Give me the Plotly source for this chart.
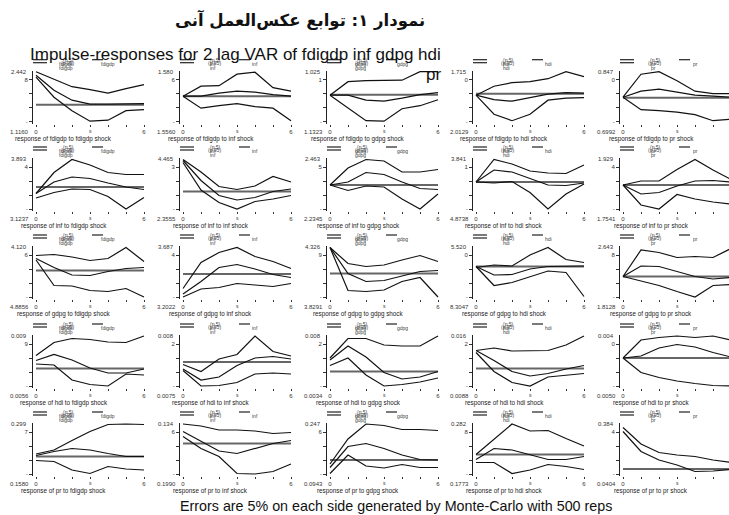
import plotly.graph_objects as go

W, H = 729, 515
steps = [0, 1, 2, 3, 4, 5, 6]
variables = ["fdigdp", "inf", "gdpg", "hdi", "pr"]

# values are read as fractions of each small panel's y-span (0 = bottom tick, 1 = top)
# ---- response of fdigdp ----
fdigdp_fdigdp_hi = [1.00, 0.85, 0.70, 0.64, 0.57, 0.66, 0.74]
fdigdp_fdigdp_irf = [0.93, 0.63, 0.43, 0.35, 0.35, 0.35, 0.36]
fdigdp_fdigdp_lo = [0.89, 0.49, 0.22, 0.01, 0.03, 0.22, 0.24]
fdigdp_inf_hi = [0.51, 0.71, 0.72, 0.95, 0.99, 0.68, 0.61]
fdigdp_inf_irf = [0.51, 0.51, 0.57, 0.61, 0.59, 0.54, 0.51]
fdigdp_inf_lo = [0.51, 0.27, 0.32, 0.36, 0.30, 0.27, 0.02]
fdigdp_gdpg_hi = [0.53, 0.80, 0.82, 0.83, 0.83, 1.00, 1.00]
fdigdp_gdpg_irf = [0.53, 0.53, 0.43, 0.41, 0.47, 0.54, 0.58]
fdigdp_gdpg_lo = [0.53, 0.27, 0.02, 0.01, 0.26, 0.32, 0.44]
fdigdp_hdi_hi = [0.53, 0.71, 0.78, 0.80, 0.86, 1.00, 0.90]
fdigdp_hdi_irf = [0.53, 0.44, 0.41, 0.48, 0.55, 0.58, 0.57]
fdigdp_hdi_lo = [0.53, 0.15, 0.02, 0.15, 0.43, 0.47, 0.48]
fdigdp_pr_hi = [0.49, 0.95, 1.00, 0.82, 0.61, 0.56, 0.56]
fdigdp_pr_irf = [0.49, 0.61, 0.65, 0.59, 0.53, 0.51, 0.49]
fdigdp_pr_lo = [0.49, 0.24, 0.22, 0.19, 0.14, 0.02, 0.05]
# ---- response of inf ----
inf_fdigdp_hi = [0.31, 0.73, 0.99, 0.88, 0.73, 0.69, 0.69]
inf_fdigdp_irf = [0.31, 0.54, 0.64, 0.61, 0.52, 0.44, 0.39]
inf_fdigdp_lo = [0.22, 0.33, 0.40, 0.39, 0.25, 0.00, 0.23]
inf_inf_hi = [0.99, 0.74, 0.45, 0.39, 0.46, 0.65, 0.54]
inf_inf_irf = [0.97, 0.57, 0.27, 0.18, 0.23, 0.35, 0.40]
inf_inf_lo = [0.93, 0.38, 0.13, 0.00, 0.15, 0.20, 0.27]
inf_gdpg_hi = [0.48, 0.82, 0.99, 0.96, 0.74, 0.74, 0.79]
inf_gdpg_irf = [0.48, 0.54, 0.73, 0.69, 0.54, 0.41, 0.39]
inf_gdpg_lo = [0.48, 0.37, 0.46, 0.44, 0.20, 0.00, 0.30]
inf_hdi_hi = [0.54, 0.99, 0.90, 0.76, 0.72, 0.71, 0.88]
inf_hdi_irf = [0.54, 0.78, 0.74, 0.61, 0.48, 0.47, 0.52]
inf_hdi_lo = [0.54, 0.52, 0.55, 0.33, 0.00, 0.30, 0.50]
inf_pr_hi = [0.48, 0.56, 0.56, 0.79, 0.99, 0.78, 0.59]
inf_pr_irf = [0.48, 0.30, 0.33, 0.46, 0.56, 0.57, 0.54]
inf_pr_lo = [0.48, 0.08, 0.00, 0.29, 0.20, 0.14, 0.10]
# ---- response of gdpg ----
gdpg_fdigdp_hi = [0.83, 0.85, 0.80, 0.73, 0.77, 0.99, 0.71]
gdpg_fdigdp_irf = [0.77, 0.59, 0.44, 0.43, 0.51, 0.57, 0.59]
gdpg_fdigdp_lo = [0.74, 0.23, 0.22, 0.13, 0.11, 0.17, 0.00]
gdpg_inf_hi = [0.17, 0.69, 0.89, 0.99, 0.81, 0.71, 0.57]
gdpg_inf_irf = [0.06, 0.31, 0.59, 0.65, 0.56, 0.45, 0.39]
gdpg_inf_lo = [0.00, 0.16, 0.19, 0.27, 0.24, 0.21, 0.27]
gdpg_gdpg_hi = [0.99, 0.67, 0.61, 0.64, 0.74, 0.83, 0.71]
gdpg_gdpg_irf = [0.99, 0.47, 0.31, 0.33, 0.42, 0.51, 0.53]
gdpg_gdpg_lo = [0.99, 0.13, 0.11, 0.14, 0.31, 0.39, 0.00]
gdpg_hdi_hi = [0.59, 0.64, 0.62, 0.84, 0.99, 0.75, 0.69]
gdpg_hdi_irf = [0.61, 0.44, 0.45, 0.56, 0.61, 0.61, 0.62]
gdpg_hdi_lo = [0.61, 0.23, 0.29, 0.41, 0.52, 0.49, 0.01]
gdpg_pr_hi = [0.41, 0.94, 0.89, 0.79, 0.81, 0.79, 0.97]
gdpg_pr_irf = [0.41, 0.62, 0.61, 0.51, 0.41, 0.36, 0.39]
gdpg_pr_lo = [0.41, 0.32, 0.23, 0.11, 0.00, 0.23, 0.25]
# ---- response of hdi ----
hdi_fdigdp_hi = [0.61, 0.87, 0.95, 0.93, 0.88, 0.87, 1.00]
hdi_fdigdp_irf = [0.51, 0.63, 0.52, 0.36, 0.26, 0.26, 0.34]
hdi_fdigdp_lo = [0.44, 0.42, 0.12, 0.03, 0.00, 0.24, 0.22]
hdi_inf_hi = [0.43, 0.29, 0.54, 0.63, 1.00, 0.69, 0.60]
hdi_inf_irf = [0.34, 0.12, 0.18, 0.41, 0.56, 0.59, 0.54]
hdi_inf_lo = [0.31, 0.00, 0.01, 0.07, 0.24, 0.26, 0.24]
hdi_gdpg_hi = [0.56, 0.95, 0.95, 0.82, 0.80, 0.80, 1.00]
hdi_gdpg_irf = [0.52, 0.80, 0.58, 0.27, 0.14, 0.18, 0.29]
hdi_gdpg_lo = [0.41, 0.56, 0.22, 0.00, 0.03, 0.08, 0.16]
hdi_hdi_hi = [0.71, 0.76, 0.70, 0.71, 0.71, 0.82, 1.00]
hdi_hdi_irf = [0.71, 0.51, 0.29, 0.20, 0.25, 0.34, 0.41]
hdi_hdi_lo = [0.67, 0.29, 0.07, 0.00, 0.18, 0.22, 0.25]
hdi_pr_hi = [0.56, 0.92, 0.97, 1.00, 0.97, 1.00, 0.92]
hdi_pr_irf = [0.56, 0.60, 0.76, 0.83, 0.78, 0.67, 0.58]
hdi_pr_lo = [0.56, 0.27, 0.17, 0.10, 0.05, 0.01, 0.00]
# ---- response of pr ----
pr_fdigdp_hi = [0.40, 0.48, 0.67, 0.85, 0.99, 1.00, 0.99]
pr_fdigdp_irf = [0.37, 0.45, 0.51, 0.48, 0.41, 0.35, 0.35]
pr_fdigdp_lo = [0.27, 0.25, 0.08, 0.01, 0.15, 0.10, 0.08]
pr_inf_hi = [1.00, 0.96, 0.88, 0.88, 0.86, 0.81, 0.83]
pr_inf_irf = [0.85, 0.65, 0.46, 0.41, 0.51, 0.61, 0.67]
pr_inf_lo = [0.75, 0.51, 0.35, 0.01, 0.00, 0.05, 0.20]
pr_gdpg_hi = [0.20, 0.70, 1.00, 0.97, 0.89, 0.89, 0.87]
pr_gdpg_irf = [0.13, 0.55, 0.61, 0.51, 0.38, 0.29, 0.28]
pr_gdpg_lo = [0.01, 0.38, 0.16, 0.12, 0.19, 0.13, 0.13]
pr_hdi_hi = [0.39, 0.69, 1.00, 0.86, 0.87, 0.71, 0.56]
pr_hdi_irf = [0.29, 0.51, 0.48, 0.38, 0.29, 0.29, 0.35]
pr_hdi_lo = [0.23, 0.23, 0.01, 0.08, 0.19, 0.15, 0.09]
pr_pr_hi = [0.93, 0.60, 0.43, 0.38, 0.35, 0.28, 0.23]
pr_pr_irf = [0.85, 0.45, 0.28, 0.18, 0.05, 0.06, 0.09]
pr_pr_lo = None

# zero-response level per panel (rows = response, cols = shock)
zero_fdigdp = [0.34, 0.51, 0.54, 0.56, 0.48]
zero_inf = [0.44, 0.35, 0.48, 0.54, 0.48]
zero_gdpg = [0.53, 0.46, 0.47, 0.61, 0.41]
zero_hdi = [0.35, 0.48, 0.29, 0.35, 0.56]
zero_pr = [0.35, 0.61, 0.28, 0.39, 0.10]

# axis value labels (top / bottom) and the garbled tick digit
top_fdigdp = ["2.442", "1.580", "1.025", "1.715", "0.847"]
top_inf = ["3.893", "4.465", "2.463", "3.841", "1.929"]
top_gdpg = ["4.120", "3.687", "4.326", "5.520", "2.643"]
top_hdi = ["0.009", "0.008", "0.008", "0.016", "0.004"]
top_pr = ["0.299", "0.134", "0.247", "0.282", "0.384"]
bot_fdigdp = ["1.1160", "1.5560", "1.1323", "2.0129", "0.6992"]
bot_inf = ["3.1237", "2.3555", "2.2345", "4.8738", "1.7541"]
bot_gdpg = ["4.8856", "3.2022", "3.8291", "8.3047", "1.8128"]
bot_hdi = ["0.0056", "0.0075", "0.0034", "0.0088", "0.0050"]
bot_pr = ["0.1580", "0.1990", "0.0943", "0.1773", "0.0404"]
tick_fdigdp = ["8", "6", "1", "0", "0"]
tick_inf = ["4", "3", "5", "1", "4"]
tick_gdpg = ["6", "4", "9", "0", "8"]
tick_hdi = ["9", "2", "2", "2", "0"]
tick_pr = ["7", "6", "6", "8", "4"]

g = globals()
zeros = [zero_fdigdp, zero_inf, zero_gdpg, zero_hdi, zero_pr]
tops = [top_fdigdp, top_inf, top_gdpg, top_hdi, top_pr]
bots = [bot_fdigdp, bot_inf, bot_gdpg, bot_hdi, bot_pr]
ticks = [tick_fdigdp, tick_inf, tick_gdpg, tick_hdi, tick_pr]

# ---------------- geometry (pixels) ----------------
X0 = [36, 183, 330, 476, 623]
T = [71.7, 159, 247, 336, 424]
PU = 18.0   # px per step
VH = 50.0   # px for the panel's unit height

def px(x):
    return x / W

def py(y):
    return 1 - y / H

SANS = "Liberation Sans, Arial, sans-serif"
fig = go.Figure()
layout = {}
annotations = []
shapes = []

for r in range(5):
    for c in range(5):
        i = r * 5 + c + 1
        resp, shock = variables[r], variables[c]
        x0 = X0[c]
        top = T[r]
        bot = top + VH
        left = x0 - 3
        right = min(x0 + 110, W)
        xr = [(left - x0) / PU, (right - x0) / PU]
        ytop, ybot = top - 1, bot + 2
        yr = [(bot - ybot) / VH, (bot - ytop) / VH]
        xa = "x" if i == 1 else f"x{i}"
        ya = "y" if i == 1 else f"y{i}"
        layout["xaxis" if i == 1 else f"xaxis{i}"] = dict(
            domain=[px(left), px(right)], range=xr, anchor=ya,
            showgrid=False, zeroline=False, showline=False,
            ticks="outside", ticklen=2, tickwidth=1, tickcolor="#333",
            tickvals=steps, ticktext=["0", "", "", "", "", "", "6"],
            tickfont=dict(size=6, family=SANS, color="#333"), fixedrange=True)
        layout["yaxis" if i == 1 else f"yaxis{i}"] = dict(
            domain=[py(ybot), py(ytop)], range=yr, anchor=xa,
            showgrid=False, zeroline=False, showline=True,
            linecolor="#222", linewidth=1,
            ticks="outside", ticklen=3, tickwidth=1, tickcolor="#333",
            tickvals=[0, 0.28, 0.56, 0.84], ticktext=["-", "", "", ticks[r][c]],
            tickfont=dict(size=6, family=SANS, color="#333"), fixedrange=True)

        z = zeros[r][c]
        fig.add_trace(go.Scatter(x=[0, 6], y=[z, z], mode="lines",
                                 line=dict(color="#666", width=2),
                                 xaxis=xa, yaxis=ya, showlegend=False, hoverinfo="skip"))
        for part in ("hi", "irf", "lo"):
            vals = g[f"{resp}_{shock}_{part}"]
            if vals is None:
                continue
            fig.add_trace(go.Scatter(x=steps, y=vals, mode="lines",
                                     line=dict(color="#111", width=1.2),
                                     xaxis=xa, yaxis=ya, showlegend=False,
                                     hoverinfo="skip"))

        # value labels
        annotations.append(dict(x=px(x0 - 7), y=py(top), xref="paper", yref="paper",
                                text=tops[r][c], showarrow=False, xanchor="right",
                                yanchor="middle", font=dict(size=6, family=SANS, color="#333")))
        annotations.append(dict(x=px(x0 - 5), y=py(bot + 10), xref="paper", yref="paper",
                                text=bots[r][c], showarrow=False, xanchor="right",
                                yanchor="middle", font=dict(size=6, family=SANS, color="#333")))
        annotations.append(dict(x=px(x0 + 54), y=py(bot + 9), xref="paper", yref="paper",
                                text="s", showarrow=False, xanchor="center",
                                yanchor="middle", font=dict(size=5, family=SANS, color="#333")))
        annotations.append(dict(x=px(x0 + 28), y=py(bot + 17), xref="paper", yref="paper",
                                text=f"response of {resp} to {shock} shock", showarrow=False,
                                xanchor="center", yanchor="middle",
                                font=dict(size=6.3, family=SANS, color="#222")))
        # legend block
        for ly in (top - 12, top - 9):
            shapes.append(dict(type="line", xref="paper", yref="paper",
                               x0=px(x0 - 3), x1=px(x0 + 11), y0=py(ly), y1=py(ly),
                               line=dict(color="#222", width=1.2)))
        if x0 + 56 < W:
            shapes.append(dict(type="line", xref="paper", yref="paper",
                               x0=px(x0 + 56), x1=px(min(x0 + 67, W)), y0=py(top - 12),
                               y1=py(top - 12), line=dict(color="#222", width=1.2)))
        for txt, dx, dy in (("(p 5)", 32, -12), ("(p 95)", 31, -9), (shock, 30, -8),
                            (shock, 30, -4), (shock, 72, -8)):
            annotations.append(dict(x=px(x0 + dx), y=py(top + dy), xref="paper", yref="paper",
                                    text=txt, showarrow=False, xanchor="center",
                                    yanchor="middle",
                                    font=dict(size=5, family=SANS, color="#444")))

# titles
annotations.append(dict(x=px(300), y=py(20), xref="paper", yref="paper",
                        text="<b>نمودار ۱: توابع عکس‌العمل آنی</b>", showarrow=False,
                        xanchor="center", yanchor="middle",
                        font=dict(size=16.5, family="DejaVu Sans", color="#111")))
annotations.append(dict(x=px(443), y=py(55), xref="paper", yref="paper",
                        text="Impulse-responses for 2 lag VAR of fdigdp inf gdpg hdi",
                        showarrow=False, xanchor="right", yanchor="middle",
                        font=dict(size=17, family=SANS, color="#111")))
annotations.append(dict(x=px(443), y=py(75), xref="paper", yref="paper",
                        text="pr", showarrow=False, xanchor="right", yanchor="middle",
                        font=dict(size=17, family=SANS, color="#111")))
annotations.append(dict(x=px(396), y=py(506), xref="paper", yref="paper",
                        text="Errors are 5% on each side generated by Monte-Carlo with 500 reps",
                        showarrow=False, xanchor="center", yanchor="middle",
                        font=dict(size=14.3, family=SANS, color="#111")))

fig.update_layout(**layout)
fig.update_layout(width=W, height=H, margin=dict(l=0, r=0, t=0, b=0),
                  paper_bgcolor="white", plot_bgcolor="white",
                  annotations=annotations, shapes=shapes, showlegend=False)
fig.write_html("out.html", config={"displayModeBar": False},
               post_script="document.body.style.margin='0';document.body.style.overflow='hidden';")
